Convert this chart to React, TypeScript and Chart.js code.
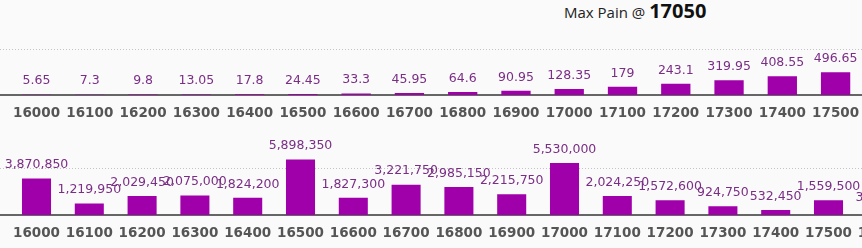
import React, { useEffect, useRef } from 'react';
import { Chart, registerables } from 'chart.js';

Chart.register(...registerables);

const strikes = ['16000', '16100', '16200', '16300', '16400', '16500', '16600', '16700', '16800', '16900', '17000', '17100', '17200', '17300', '17400', '17500', '17600'];
const premiumValues = [5.65, 7.3, 9.8, 13.05, 17.8, 24.45, 33.3, 45.95, 64.6, 90.95, 128.35, 179, 243.1, 319.95, 408.55, 496.65, 590.2];
const painValues = [3870850, 1219950, 2029450, 2075000, 1824200, 5898350, 1827300, 3221750, 2985150, 2215750, 5530000, 2024250, 1572600, 924750, 532450, 1559500, 356400];
const premiumGrid = 1000;
const premiumMax = 1000;
const painGrid = 5000000;
const painMax = 6000000;
const maxPainStrike = '17050';

const BAR = '#a000aa';
const LABEL = '#7a2e85';

type BarProps = {
  labels: string[];
  values: number[];
  grid: number;
  max: number;
  fmt: (v: number) => string;
  top: number;
  width: number;
  height: number;
  padding: { left: number; right: number; top: number; bottom: number };
};

function BarStrip(p: BarProps) {
  const ref = useRef<HTMLCanvasElement | null>(null);
  useEffect(() => {
    if (!ref.current) return;
    const linesPlugin = {
      id: 'stripLines',
      beforeDatasetsDraw(chart: any) {
        const { ctx } = chart;
        const y = Math.round(chart.scales.y.getPixelForValue(p.grid)) + 0.5;
        ctx.save();
        ctx.strokeStyle = '#c4c4c4';
        ctx.lineWidth = 1;
        ctx.setLineDash([1, 2]);
        ctx.beginPath();
        ctx.moveTo(0, y);
        ctx.lineTo(chart.width, y);
        ctx.stroke();
        ctx.setLineDash([]);
        const y0 = chart.scales.y.getPixelForValue(0);
        ctx.strokeStyle = '#666666';
        ctx.lineWidth = 2;
        ctx.beginPath();
        ctx.moveTo(0, y0);
        ctx.lineTo(chart.width, y0);
        ctx.stroke();
        ctx.restore();
      },
      afterDatasetsDraw(chart: any) {
        const { ctx } = chart;
        ctx.save();
        const meta = chart.getDatasetMeta(0);
        ctx.fillStyle = LABEL;
        ctx.font = '12.5px "DejaVu Sans"';
        ctx.textAlign = 'center';
        ctx.textBaseline = 'middle';
        meta.data.forEach((bar: any, i: number) => {
          ctx.fillText(p.fmt(p.values[i]), bar.x, bar.y - 13.5);
        });
        ctx.restore();
      },
    };
    const chart = new Chart(ref.current, {
      type: 'bar',
      data: {
        labels: p.labels,
        datasets: [
          {
            data: p.values,
            backgroundColor: BAR,
            borderWidth: 0,
            categoryPercentage: 1,
            barPercentage: 0.55,
          },
        ],
      },
      options: {
        responsive: false,
        animation: false,
        devicePixelRatio: 1,
        layout: { padding: p.padding },
        plugins: { legend: { display: false }, tooltip: { enabled: false }, title: { display: false } },
        scales: {
          x: {
            grid: { display: false, drawTicks: false },
            border: { display: false },
            ticks: {
              color: '#555555',
              padding: 1,
              maxRotation: 0,
              autoSkip: false,
              font: { family: '"DejaVu Sans"', size: 13.5, weight: 'bold', lineHeight: 34 / 13.5 },
            },
          },
          y: { display: false, min: 0, max: p.max },
        },
      },
      plugins: [linesPlugin],
    });
    return () => chart.destroy();
  }, []);
  return (
    <canvas
      ref={ref}
      width={p.width}
      height={p.height}
      style={{ position: 'absolute', left: 0, top: p.top, width: p.width, height: p.height }}
    />
  );
}

export default function App() {
  useEffect(() => {
    document.body.style.margin = '0';
    document.body.style.overflow = 'hidden';
    document.body.style.background = '#fafafa';
  }, []);
  return (
    <div style={{ position: 'relative', width: 862, height: 248, overflow: 'hidden', background: '#fafafa' }}>
      <div
        style={{
          position: 'absolute',
          left: 564,
          top: -2,
          height: 26,
          lineHeight: '26px',
          whiteSpace: 'nowrap',
          fontFamily: '"Open Sans", "Noto Sans", sans-serif',
          fontSize: 15,
          color: '#222',
        }}
      >
        Max Pain @ <b style={{ fontSize: 20, color: '#111' }}>{maxPainStrike}</b>
      </div>
      <BarStrip
        labels={strikes}
        values={premiumValues}
        grid={premiumGrid}
        max={premiumMax}
        fmt={(v) => String(v)}
        top={28}
        width={930}
        height={103}
        padding={{ left: 9.9, right: 14.5, top: 21, bottom: 0 }}
      />
      <BarStrip
        labels={strikes}
        values={painValues}
        grid={painGrid}
        max={painMax}
        fmt={(v) => v.toLocaleString('en-US')}
        top={124}
        width={920}
        height={127}
        padding={{ left: 10.1, right: 12.3, top: 34.6, bottom: 0 }}
      />
    </div>
  );
}
